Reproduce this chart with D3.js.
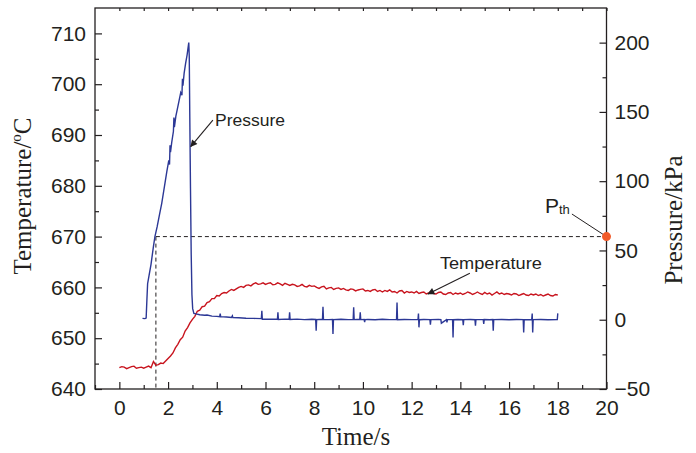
<!DOCTYPE html>
<html>
<head>
<meta charset="utf-8">
<script src="https://cdn.jsdelivr.net/npm/d3@7"></script>
<style>
body { margin: 0; background: #fff; }
text { fill: #231f20; }
</style>
</head>
<body>
<svg id="chart" width="696" height="453"></svg>
<script>
// temperature, sampled every 0.1 s from t = 0 to 18 s
const tempStart = 0, tempStep = 0.1
const tempValues = [
  644.2,644.4,644.3,644.0,644.2,644.4,644.5,644.1,644.2,644.3,
  644.1,644.3,644.5,644.2,645.4,644.7,644.8,645.1,645.0,645.5,
  646.0,646.5,647.1,648.1,648.8,649.7,650.2,651.4,652.1,653.0,
  653.7,654.3,655.3,655.5,656.2,656.3,657.0,657.2,657.8,657.8,
  658.4,658.3,658.8,659.0,658.9,659.3,659.6,659.4,659.7,660.0,
  660.2,660.0,660.4,660.5,660.3,660.7,660.9,660.6,660.7,660.9,
  660.6,660.8,660.9,660.5,660.6,660.9,660.7,660.4,660.8,660.6,
  660.4,660.6,660.5,660.2,660.3,660.6,660.2,660.1,660.4,660.2,
  660.3,660.0,659.8,660.1,660.2,659.7,659.9,660.0,659.6,659.8,
  659.9,659.6,659.8,659.5,659.4,659.7,659.6,659.3,659.5,659.6,
  659.7,659.3,659.4,659.2,659.5,659.6,659.2,659.4,659.1,659.4,
  659.2,659.5,659.1,659.2,658.9,659.3,659.4,658.9,659.2,659.0,
  659.1,658.9,659.2,658.8,659.0,659.1,658.7,658.9,659.2,658.8,
  658.7,659.0,659.1,658.7,658.6,658.9,659.0,658.6,658.9,658.7,
  658.9,658.6,658.8,659.1,658.9,658.6,658.8,659.1,658.8,658.6,
  659.0,658.7,658.9,658.5,658.8,659.1,658.7,658.9,658.6,658.8,
  658.7,658.5,658.8,658.7,658.4,658.6,658.8,658.5,658.4,658.7,
  658.5,658.7,658.4,658.6,658.3,658.5,658.7,658.4,658.3,658.6,
  658.5
]

// pressure (kPa)
const presTime = [
  0.95,1.05,1.10,1.13,1.16,1.22,1.30,1.40,1.46,1.55,1.65,1.74,1.85,1.95,2.03,2.06,2.08,2.10,2.15,2.22,
  2.24,2.26,2.32,2.38,2.45,2.52,2.57,2.59,2.61,2.66,2.72,2.78,2.85,2.87,2.89,2.92,2.95,2.98,3.01,3.06,
  3.15,3.30,3.50,3.60,3.80,4.00,4.12,4.14,4.16,4.40,4.60,4.64,4.66,4.90,5.20,5.50,5.83,5.85,5.87,6.20,
  6.49,6.51,6.53,6.80,6.97,6.99,7.01,7.30,7.60,7.90,8.06,8.08,8.10,8.34,8.36,8.38,8.60,8.75,8.77,8.79,
  9.10,9.40,9.60,9.62,9.64,9.87,9.89,9.91,10.05,10.07,10.09,10.20,10.50,10.80,11.10,11.38,11.40,11.42,11.70,12.00,
  12.26,12.28,12.30,12.32,12.50,12.75,12.77,12.79,13.10,13.20,13.22,13.43,13.45,13.47,13.68,13.70,13.72,13.90,14.10,14.12,
  14.14,14.40,14.60,14.62,14.64,14.94,14.96,14.98,15.20,15.33,15.35,15.37,15.70,16.00,16.30,16.58,16.60,16.62,16.93,16.95,
  16.97,16.99,17.30,17.60,17.98,18.00
]
const presValues = [
  1.0,0.8,1.2,14,26,32,40,53,60,67,76,84,96,107,115,112,126,121,128,136,
  146,139,147,152,158,164,162,174,169,178,185,191,200,190,150,95,47,18,8,4.6,
  4.2,3.6,3.2,3.4,2.6,2.4,2.2,4.4,2.2,2.0,1.6,2.8,1.5,1.4,1.1,1.0,0.8,6.5,0.3,0.4,
  0.3,5.3,0.2,0.4,0.3,5.3,0.2,0.4,0.1,0.3,0.2,-8,0.1,0.3,9.4,0.2,0.1,0.2,-10.3,0.1,
  0.3,0.1,0.2,8.9,0.1,0.3,5.3,0.1,0.2,-1.8,0.1,0.2,0.0,0.3,0.1,0.2,12.5,0.0,0.2,0.1,
  0.1,4.5,-5.5,0.0,0.2,0.1,-3.6,0.1,0.2,0.1,-2.5,0.0,-2,0.1,0.1,-12.8,0.0,0.2,0.0,-4,
  0.1,0.2,0.0,-4.3,0.1,0.1,-3,0.2,0.0,0.1,-8,0.1,0.2,0.0,0.2,0.1,-9.2,0.0,0.1,4.5,
  -9.2,0.1,0.2,0.0,0.1,4.6
]

const xTicks = [0, 2, 4, 6, 8, 10, 12, 14, 16, 18, 20]
const tempTicks = [640, 650, 660, 670, 680, 690, 700, 710]
const presTicks = [-50, 0, 50, 100, 150, 200]
const pThreshold = 60     // kPa
const tThreshold = 1.5    // s

const red = "#c8141e", blue = "#2c3896", ink = "#231f20"
const sansFont = "'Liberation Sans', Arial, sans-serif"
const serifFont = "'Liberation Serif', 'Times New Roman', serif"

const svg = d3.select("#chart")
const L = 95, R = 606.5, T = 8, B = 389

const x = d3.scaleLinear().domain([-1, 20]).range([L, R])
const yT = d3.scaleLinear().domain([640, 715]).range([B, T])
const yP = d3.scaleLinear().domain([-50, 225]).range([B, T])

const tempData = tempValues.map((v, i) => ({t: tempStart + i * tempStep, v: v}))
const presData = presTime.map((t, i) => ({t: t, v: presValues[i]}))

function styleAxis(g) {
  g.select(".domain").remove()
  g.selectAll(".tick line").attr("stroke", ink).attr("stroke-width", 1.2)
  g.selectAll("text").style("font-family", sansFont).style("font-size", "21px").attr("fill", ink)
}

// minor ticks first
svg.append("g").attr("transform", `translate(0,${B})`)
  .call(d3.axisBottom(x).tickValues(d3.range(-1, 20, 2)).tickSize(-4).tickFormat(""))
  .call(styleAxis)
svg.append("g").attr("transform", `translate(0,${T})`)
  .call(d3.axisTop(x).tickValues(d3.range(0, 21, 1)).tickSize(-3).tickFormat(""))
  .call(styleAxis)
svg.append("g").attr("transform", `translate(${L},0)`)
  .call(d3.axisLeft(yT).tickValues(d3.range(645, 715, 10)).tickSize(-4).tickFormat(""))
  .call(styleAxis)
svg.append("g").attr("transform", `translate(${R},0)`)
  .call(d3.axisRight(yP).tickValues([-25, 25, 75, 125, 175]).tickSize(-4).tickFormat(""))
  .call(styleAxis)

// major ticks with labels
svg.append("g").attr("transform", `translate(0,${B})`)
  .call(d3.axisBottom(x).tickValues(xTicks).tickSizeInner(-7).tickSizeOuter(0).tickPadding(11))
  .call(styleAxis)
svg.append("g").attr("transform", `translate(${L},0)`)
  .call(d3.axisLeft(yT).tickValues(tempTicks).tickSizeInner(-7).tickSizeOuter(0).tickPadding(9))
  .call(styleAxis)
svg.append("g").attr("transform", `translate(${R},0)`)
  .call(d3.axisRight(yP).tickValues(presTicks).tickSizeInner(-7).tickSizeOuter(0).tickPadding(8))
  .call(styleAxis)

// frame
svg.append("rect").attr("x", L).attr("y", T).attr("width", R - L).attr("height", B - T)
  .attr("fill", "none").attr("stroke", ink).attr("stroke-width", 1.3)

// threshold guides
svg.append("line")
  .attr("x1", x(tThreshold)).attr("x2", x(20))
  .attr("y1", yP(pThreshold)).attr("y2", yP(pThreshold))
  .attr("stroke", ink).attr("stroke-width", 1).attr("stroke-dasharray", "4,3")
svg.append("line")
  .attr("x1", x(tThreshold)).attr("x2", x(tThreshold))
  .attr("y1", yP(pThreshold)).attr("y2", B)
  .attr("stroke", ink).attr("stroke-width", 1).attr("stroke-dasharray", "4,3")

// curves
svg.append("path").datum(tempData)
  .attr("fill", "none").attr("stroke", red).attr("stroke-width", 1.4)
  .attr("d", d3.line().x(d => x(d.t)).y(d => yT(d.v)))
svg.append("path").datum(presData)
  .attr("fill", "none").attr("stroke", blue).attr("stroke-width", 1.4)
  .attr("d", d3.line().x(d => x(d.t)).y(d => yP(d.v)))

// threshold dot
svg.append("line")
  .attr("x1", x(18.58)).attr("y1", yP(76.3)).attr("x2", x(20)).attr("y2", yP(pThreshold))
  .attr("stroke", ink).attr("stroke-width", 1)
svg.append("circle").attr("cx", x(20)).attr("cy", yP(pThreshold)).attr("r", 4.5).attr("fill", "#f15a29")
const pth = svg.append("text").attr("x", x(17.47)).attr("y", yP(76.8))
  .style("font-family", sansFont).style("font-size", "21px")
pth.append("tspan").text("P")
pth.append("tspan").attr("dy", 1).style("font-size", "13px").text("th")

// arrows
svg.append("defs").append("marker")
  .attr("id", "arrow").attr("viewBox", "0 0 10 10").attr("refX", 9).attr("refY", 5)
  .attr("markerWidth", 9).attr("markerHeight", 7).attr("markerUnits", "userSpaceOnUse")
  .attr("orient", "auto")
  .append("path").attr("d", "M0,0 L10,5 L0,10 z").attr("fill", ink)

svg.append("line")
  .attr("x1", x(3.84)).attr("y1", yP(144)).attr("x2", x(2.93)).attr("y2", yP(125))
  .attr("stroke", ink).attr("stroke-width", 1.1).attr("marker-end", "url(#arrow)")
svg.append("text").attr("x", x(3.93)).attr("y", yP(139.7))
  .attr("textLength", 70).attr("lengthAdjust", "spacingAndGlyphs")
  .style("font-family", sansFont).style("font-size", "16px").text("Pressure")

svg.append("line")
  .attr("x1", x(14.39)).attr("y1", yT(662.8)).attr("x2", x(12.67)).attr("y2", yT(658.7))
  .attr("stroke", ink).attr("stroke-width", 1.1).attr("marker-end", "url(#arrow)")
svg.append("text").attr("x", x(13.16)).attr("y", yT(663.6))
  .attr("textLength", 102).attr("lengthAdjust", "spacingAndGlyphs")
  .style("font-family", sansFont).style("font-size", "16px").text("Temperature")

// axis titles
svg.append("text").attr("x", 356).attr("y", 445).attr("text-anchor", "middle")
  .style("font-family", serifFont).style("font-size", "25px").text("Time/s")

const yl = svg.append("text").attr("transform", "translate(31,196) rotate(-90)")
  .attr("text-anchor", "middle")
  .style("font-family", serifFont).style("font-size", "25px")
yl.append("tspan").text("Temperature/")
yl.append("tspan").attr("dy", -10).style("font-size", "15px").text("o")
yl.append("tspan").attr("dy", 10).text("C")

svg.append("text").attr("transform", "translate(682,220) rotate(-90)")
  .attr("text-anchor", "middle")
  .style("font-family", serifFont).style("font-size", "25px").text("Pressure/kPa")
</script>
</body>
</html>
